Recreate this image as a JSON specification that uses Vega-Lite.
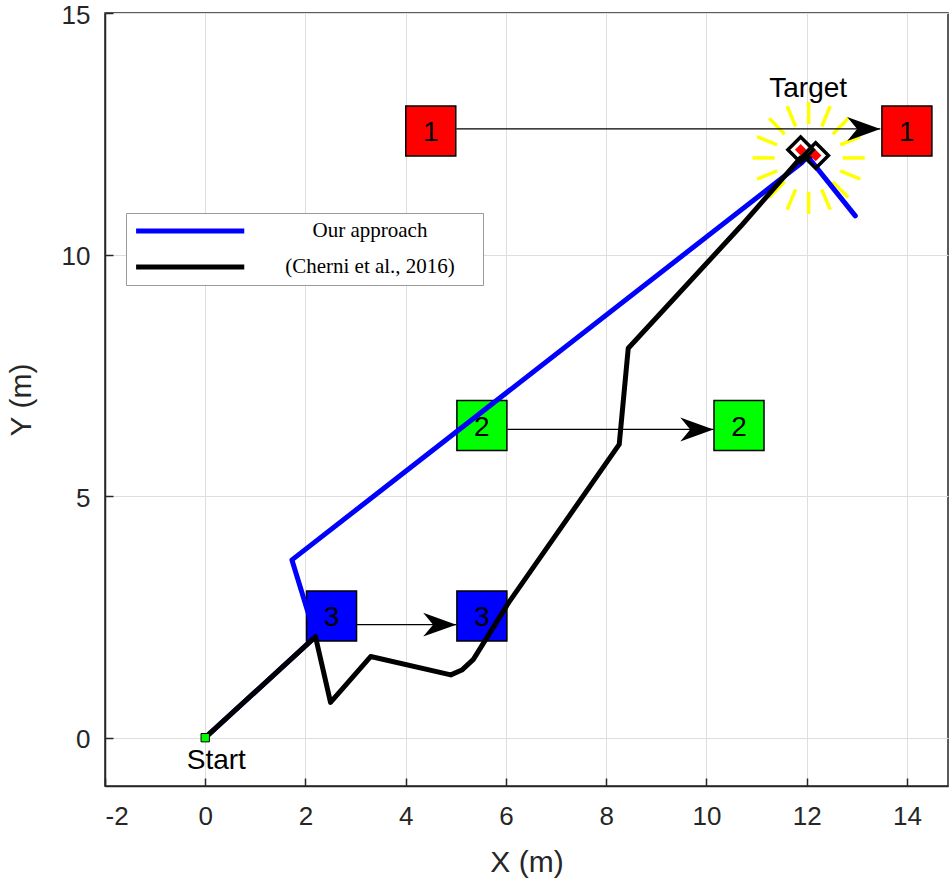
{
  "$schema": "https://vega.github.io/schema/vega-lite/v6.json",
  "width": 843,
  "height": 773,
  "autosize": {"type": "none"},
  "padding": {"left": 105, "top": 13, "right": 1, "bottom": 99},
  "background": "white",
  "config": {
    "view": {"stroke": "#262626", "strokeWidth": 1.5},
    "font": "Liberation Sans",
    "axis": {
      "labelFont": "Liberation Sans",
      "labelFontSize": 26,
      "labelColor": "#262626",
      "titleFont": "Liberation Sans",
      "titleFontSize": 30,
      "titleFontWeight": "normal",
      "titleColor": "#262626",
      "gridColor": "#dedede",
      "gridWidth": 1,
      "domainColor": "#262626",
      "domainWidth": 1.5,
      "tickColor": "#262626",
      "tickWidth": 1.5,
      "tickSize": -8
    },
    "legend": {
      "orient": "none",
      "legendX": 21,
      "legendY": 200,
      "fillColor": "white",
      "strokeColor": "#9a9a9a",
      "strokeWidth": 1,
      "padding": 6,
      "symbolType": "M-1,0H19",
      "symbolSize": 117,
      "symbolStrokeWidth": 5,
      "symbolOffset": -1,
      "clipHeight": 24,
      "rowPadding": 12,
      "labelFont": "Liberation Serif",
      "labelFontSize": 21,
      "labelColor": "black",
      "labelAlign": "center",
      "labelOffset": 218,
      "labelLimit": 400,
      "titleOrient": "right",
      "titleFontSize": 2,
      "titlePadding": 22
    }
  },
  "datasets": {
    "paths": [
      {"series": "Our approach", "step": 0, "x": 0, "y": 0},
      {"series": "Our approach", "step": 1, "x": 2.2, "y": 2.09},
      {"series": "Our approach", "step": 2, "x": 1.73, "y": 3.68},
      {"series": "Our approach", "step": 3, "x": 11.9, "y": 11.9},
      {"series": "Our approach", "step": 4, "x": 12.02, "y": 12.03},
      {"series": "Our approach", "step": 5, "x": 12.97, "y": 10.8},
      {"series": "(Cherni et al., 2016)", "step": 0, "x": 0, "y": 0},
      {"series": "(Cherni et al., 2016)", "step": 1, "x": 2.2, "y": 2.09},
      {"series": "(Cherni et al., 2016)", "step": 2, "x": 2.5, "y": 0.73},
      {"series": "(Cherni et al., 2016)", "step": 3, "x": 3.3, "y": 1.68},
      {"series": "(Cherni et al., 2016)", "step": 4, "x": 4.9, "y": 1.3},
      {"series": "(Cherni et al., 2016)", "step": 5, "x": 5.12, "y": 1.4},
      {"series": "(Cherni et al., 2016)", "step": 6, "x": 5.35, "y": 1.62},
      {"series": "(Cherni et al., 2016)", "step": 7, "x": 6.05, "y": 2.79},
      {"series": "(Cherni et al., 2016)", "step": 8, "x": 8.26, "y": 6.07},
      {"series": "(Cherni et al., 2016)", "step": 9, "x": 8.44, "y": 8.06},
      {"series": "(Cherni et al., 2016)", "step": 10, "x": 10.68, "y": 10.58},
      {"series": "(Cherni et al., 2016)", "step": 11, "x": 11.88, "y": 12.0},
      {"series": "(Cherni et al., 2016)", "step": 12, "x": 12.18, "y": 12.06}
    ],
    "obstacles": [
      {"obstacle": "1", "x": 4.5, "y": 12.56},
      {"obstacle": "1", "x": 14.0, "y": 12.56},
      {"obstacle": "2", "x": 5.52, "y": 6.46},
      {"obstacle": "2", "x": 10.65, "y": 6.46},
      {"obstacle": "3", "x": 2.52, "y": 2.52},
      {"obstacle": "3", "x": 5.52, "y": 2.52}
    ],
    "moves": [
      {"obstacle": "1", "x": 5.01, "x2": 13.47, "y": 12.6},
      {"obstacle": "2", "x": 6.03, "x2": 10.14, "y": 6.38},
      {"obstacle": "3", "x": 3.03, "x2": 5.01, "y": 2.34}
    ],
    "burst": [
      {"x": 12.72, "y": 12.0, "x2": 13.16, "y2": 12.0},
      {"x": 12.67, "y": 12.27, "x2": 13.07, "y2": 12.44},
      {"x": 12.52, "y": 12.49, "x2": 12.83, "y2": 12.82},
      {"x": 12.3, "y": 12.65, "x2": 12.47, "y2": 13.07},
      {"x": 12.04, "y": 12.7, "x2": 12.04, "y2": 13.16},
      {"x": 11.78, "y": 12.65, "x2": 11.61, "y2": 13.07},
      {"x": 11.56, "y": 12.49, "x2": 11.25, "y2": 12.82},
      {"x": 11.41, "y": 12.27, "x2": 11.01, "y2": 12.44},
      {"x": 11.36, "y": 12.0, "x2": 10.92, "y2": 12.0},
      {"x": 11.41, "y": 11.73, "x2": 11.01, "y2": 11.56},
      {"x": 11.56, "y": 11.51, "x2": 11.25, "y2": 11.18},
      {"x": 11.78, "y": 11.35, "x2": 11.61, "y2": 10.93},
      {"x": 12.04, "y": 11.3, "x2": 12.04, "y2": 10.84},
      {"x": 12.3, "y": 11.35, "x2": 12.47, "y2": 10.93},
      {"x": 12.52, "y": 11.51, "x2": 12.83, "y2": 11.18},
      {"x": 12.67, "y": 11.73, "x2": 13.07, "y2": 11.56}
    ],
    "finals": [
      {"x": 11.88, "y": 12.17},
      {"x": 12.18, "y": 12.05}
    ],
    "notes": [
      {"text": "Start", "x": 0.22, "y": -0.48},
      {"text": "Target", "x": 12.03, "y": 13.43}
    ],
    "origin": [
      {"x": 0, "y": 0}
    ]
  },
  "encoding": {
    "x": {
      "field": "x",
      "type": "quantitative",
      "scale": {"domain": [-2, 14.82], "nice": false, "zero": false},
      "axis": {
        "values": [-2, 0, 2, 4, 6, 8, 10, 12, 14],
        "labelExpr": "'' + datum.value",
        "title": "X (m)",
        "labelPadding": 25,
        "titlePadding": 18
      }
    },
    "y": {
      "field": "y",
      "type": "quantitative",
      "scale": {"domain": [-1, 15], "nice": false, "zero": false},
      "axis": {
        "values": [0, 5, 10, 15],
        "labelExpr": "'' + datum.value",
        "labelOffset": 2,
        "title": "Y (m)",
        "labelPadding": 23,
        "titlePadding": 25
      }
    }
  },
  "layer": [
    {
      "data": {"name": "burst"},
      "mark": {"type": "rule", "color": "#ffff00", "strokeWidth": 3.5},
      "encoding": {
        "x2": {"field": "x2"},
        "y2": {"field": "y2"}
      }
    },
    {
      "data": {"name": "obstacles"},
      "mark": {"type": "point", "shape": "square", "size": 2500, "filled": true, "opacity": 1, "stroke": "black", "strokeWidth": 1.5},
      "encoding": {
        "fill": {
          "field": "obstacle",
          "type": "nominal",
          "scale": {"domain": ["1", "2", "3"], "range": ["#ff0000", "#00ff00", "#0000ff"]},
          "legend": null
        }
      }
    },
    {
      "data": {"name": "obstacles"},
      "mark": {"type": "text", "fontSize": 28, "color": "black", "baseline": "middle", "align": "center", "dy": 2},
      "encoding": {
        "text": {"field": "obstacle"}
      }
    },
    {
      "data": {"name": "moves"},
      "mark": {"type": "rule", "color": "black", "strokeWidth": 1.2},
      "encoding": {
        "x2": {"field": "x2"}
      }
    },
    {
      "data": {"name": "moves"},
      "mark": {"type": "point", "shape": "M0,0L-2,-0.72L-1.4,0L-2,0.72Z", "size": 1100, "filled": true, "color": "black", "opacity": 1},
      "encoding": {
        "x": {"field": "x2", "type": "quantitative"}
      }
    },
    {
      "data": {"name": "paths"},
      "mark": {"type": "line", "strokeWidth": 5, "strokeCap": "round", "strokeJoin": "round"},
      "encoding": {
        "color": {
          "field": "series",
          "type": "nominal",
          "scale": {"domain": ["Our approach", "(Cherni et al., 2016)"], "range": ["#0000ff", "#000000"]},
          "legend": {"title": " "}
        },
        "order": {"field": "step", "type": "quantitative"}
      }
    },
    {
      "data": {"name": "finals"},
      "mark": {"type": "point", "shape": "diamond", "size": 130, "filled": true, "color": "#ff0000", "opacity": 1}
    },
    {
      "data": {"name": "finals"},
      "mark": {"type": "point", "shape": "diamond", "size": 650, "filled": false, "stroke": "black", "strokeWidth": 3.5, "opacity": 1}
    },
    {
      "data": {"name": "origin"},
      "mark": {"type": "point", "shape": "square", "size": 70, "filled": true, "fill": "#00ff00", "stroke": "black", "strokeWidth": 1, "opacity": 1}
    },
    {
      "data": {"name": "notes"},
      "mark": {"type": "text", "fontSize": 28, "color": "black", "baseline": "middle", "align": "center"},
      "encoding": {
        "text": {"field": "text"}
      }
    }
  ]
}
